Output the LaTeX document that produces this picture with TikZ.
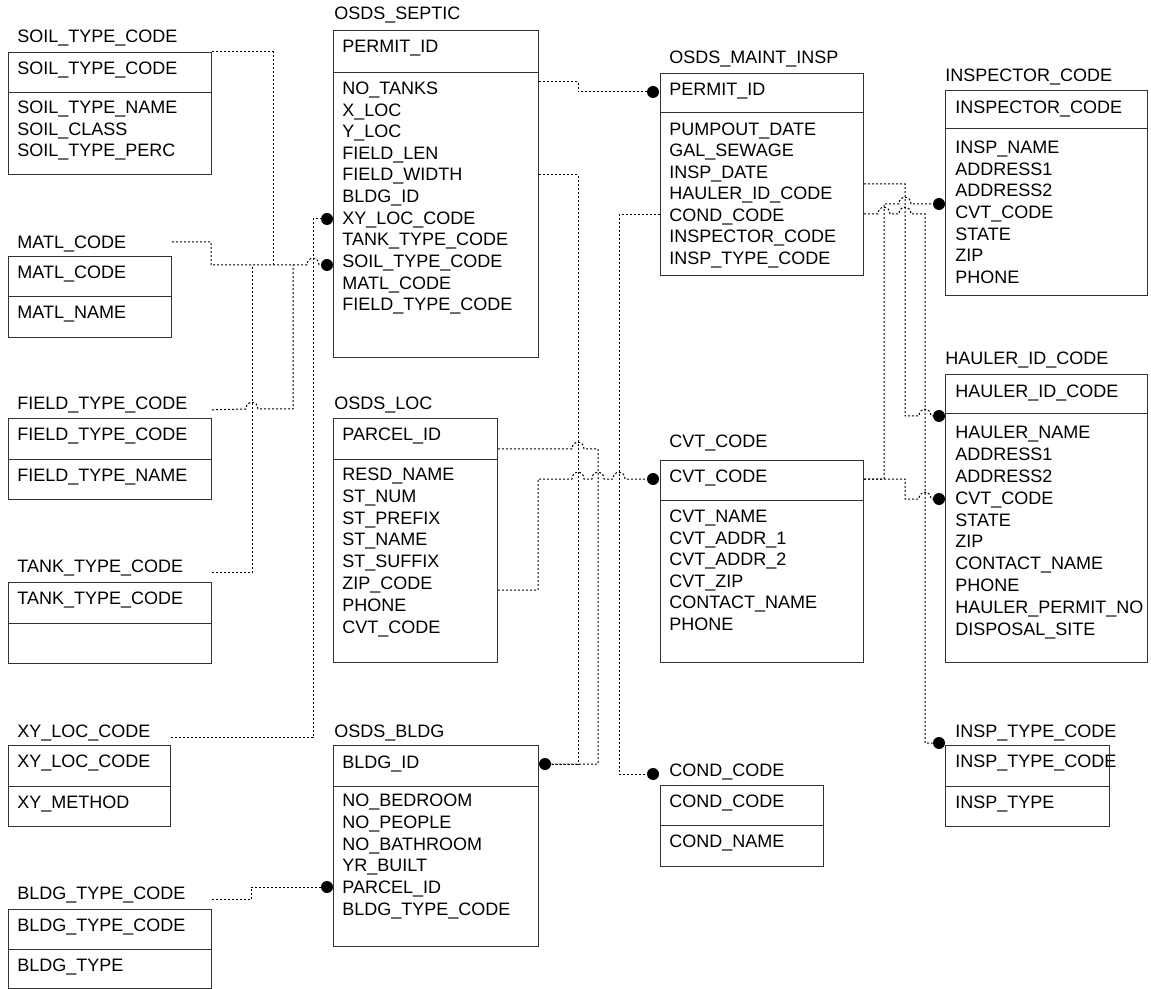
\documentclass[tikz,border=0pt]{standalone}
\usepackage{fontspec}
\setmainfont{Liberation Sans}
\definecolor{boxLineColor}{HTML}{333333}

\tikzset{
  tabbox/.style={draw=boxLineColor, line width=0.6pt, anchor=north west, inner sep=0pt},
  tabtext/.style={anchor=west, inner sep=0pt, text height=6.4pt, text depth=0pt},
  link/.style={line width=0.5pt, dash pattern=on 1pt off 1pt},
  manydot/.style={circle, fill=black, inner sep=0pt, minimum size=6pt},
  jumpat/.style 2 args={insert path={-- (#1-6,#2) .. controls (#1-6,#2-9) and (#1+6,#2-9) .. (#1+6,#2)}}
}

\begin{document}
\begin{tikzpicture}[x=0.5pt, y=-0.5pt, font=\fontsize{9}{11}\selectfont]
  \useasboundingbox (0,0) rectangle (1151,989);

  % left column
  \node[tabtext] (soilT) at (17,36) {SOIL\_TYPE\_CODE};
  \node[tabbox, minimum width=101.5pt, minimum height=20pt] (soilK) at (8,52) {};
  \node[tabbox, minimum width=101.5pt, minimum height=41pt] (soilA) at (8,92) {};
  \node[tabtext] (soil-0) at (17,68) {SOIL\_TYPE\_CODE};
  \foreach \a [count=\i] in {SOIL\_TYPE\_NAME, SOIL\_CLASS, SOIL\_TYPE\_PERC}
    \node[tabtext] (soil-\i) at (17,{107+21.7*(\i-1)}) {\a};

  \node[tabtext] (matlT) at (17,242) {MATL\_CODE};
  \node[tabbox, minimum width=81.5pt, minimum height=20pt] (matlK) at (8,256) {};
  \node[tabbox, minimum width=81.5pt, minimum height=20.5pt] (matlA) at (8,296) {};
  \node[tabtext] (matl-0) at (17,272) {MATL\_CODE};
  \node[tabtext] (matl-1) at (17,312) {MATL\_NAME};

  \node[tabtext] (fieldT) at (17,403) {FIELD\_TYPE\_CODE};
  \node[tabbox, minimum width=101.5pt, minimum height=20.5pt] (fieldK) at (8,418) {};
  \node[tabbox, minimum width=101.5pt, minimum height=20pt] (fieldA) at (8,459) {};
  \node[tabtext] (field-0) at (17,434) {FIELD\_TYPE\_CODE};
  \node[tabtext] (field-1) at (17,475) {FIELD\_TYPE\_NAME};

  \node[tabtext] (tankT) at (17,566) {TANK\_TYPE\_CODE};
  \node[tabbox, minimum width=101.5pt, minimum height=20.5pt] (tankK) at (8,582) {};
  \node[tabbox, minimum width=101.5pt, minimum height=20pt] (tankA) at (8,623) {};
  \node[tabtext] (tank-0) at (17,598) {TANK\_TYPE\_CODE};

  \node[tabtext] (xyT) at (17,731) {XY\_LOC\_CODE};
  \node[tabbox, minimum width=81pt, minimum height=20.5pt] (xyK) at (8,745) {};
  \node[tabbox, minimum width=81pt, minimum height=20pt] (xyA) at (8,786) {};
  \node[tabtext] (xy-0) at (17,761) {XY\_LOC\_CODE};
  \node[tabtext] (xy-1) at (17,802) {XY\_METHOD};

  \node[tabtext] (btT) at (17,893) {BLDG\_TYPE\_CODE};
  \node[tabbox, minimum width=101.5pt, minimum height=20pt] (btK) at (8,909) {};
  \node[tabbox, minimum width=101.5pt, minimum height=19.5pt] (btA) at (8,949) {};
  \node[tabtext] (bt-0) at (17,925) {BLDG\_TYPE\_CODE};
  \node[tabtext] (bt-1) at (17,965) {BLDG\_TYPE};

  % middle column
  \node[tabtext] (septicT) at (334,13) {OSDS\_SEPTIC};
  \node[tabbox, minimum width=102.5pt, minimum height=21pt] (septicK) at (333,30) {};
  \node[tabbox, minimum width=102.5pt, minimum height=142.5pt] (septicA) at (333,72) {};
  \node[tabtext] (septic-0) at (342,46) {PERMIT\_ID};
  \foreach \a [count=\i] in {NO\_TANKS, X\_LOC, Y\_LOC, FIELD\_LEN, FIELD\_WIDTH, BLDG\_ID,
      XY\_LOC\_CODE, TANK\_TYPE\_CODE, SOIL\_TYPE\_CODE, MATL\_CODE, FIELD\_TYPE\_CODE}
    \node[tabtext] (septic-\i) at (342,{88+21.65*(\i-1)}) {\a};

  \node[tabtext] (locT) at (334,403) {OSDS\_LOC};
  \node[tabbox, minimum width=82pt, minimum height=20.5pt] (locK) at (333,418) {};
  \node[tabbox, minimum width=82pt, minimum height=101.5pt] (locA) at (333,459) {};
  \node[tabtext] (loc-0) at (342,434) {PARCEL\_ID};
  \foreach \a [count=\i] in {RESD\_NAME, ST\_NUM, ST\_PREFIX, ST\_NAME, ST\_SUFFIX,
      ZIP\_CODE, PHONE, CVT\_CODE}
    \node[tabtext] (loc-\i) at (342,{474+21.86*(\i-1)}) {\a};

  \node[tabtext] (bldgT) at (334,731) {OSDS\_BLDG};
  \node[tabbox, minimum width=102.5pt, minimum height=20.5pt] (bldgK) at (333,745) {};
  \node[tabbox, minimum width=102.5pt, minimum height=80pt] (bldgA) at (333,786) {};
  \node[tabtext] (bldg-0) at (342,762) {BLDG\_ID};
  \foreach \a [count=\i] in {NO\_BEDROOM, NO\_PEOPLE, NO\_BATHROOM, YR\_BUILT, PARCEL\_ID,
      BLDG\_TYPE\_CODE}
    \node[tabtext] (bldg-\i) at (342,{800+21.8*(\i-1)}) {\a};

  \node[tabtext] (maintT) at (669,57) {OSDS\_MAINT\_INSP};
  \node[tabbox, minimum width=101.5pt, minimum height=19.5pt] (maintK) at (660,73) {};
  \node[tabbox, minimum width=101.5pt, minimum height=81.5pt] (maintA) at (660,112) {};
  \node[tabtext] (maint-0) at (669,89) {PERMIT\_ID};
  \foreach \a [count=\i] in {PUMPOUT\_DATE, GAL\_SEWAGE, INSP\_DATE, HAULER\_ID\_CODE,
      COND\_CODE, INSPECTOR\_CODE, INSP\_TYPE\_CODE}
    \node[tabtext] (maint-\i) at (669,{129+21.5*(\i-1)}) {\a};

  \node[tabtext] (cvtT) at (669,441) {CVT\_CODE};
  \node[tabbox, minimum width=101.5pt, minimum height=20pt] (cvtK) at (660,460) {};
  \node[tabbox, minimum width=101.5pt, minimum height=81pt] (cvtA) at (660,500) {};
  \node[tabtext] (cvt-0) at (669,476) {CVT\_CODE};
  \foreach \a [count=\i] in {CVT\_NAME, CVT\_ADDR\_1, CVT\_ADDR\_2, CVT\_ZIP, CONTACT\_NAME, PHONE}
    \node[tabtext] (cvt-\i) at (669,{516+21.6*(\i-1)}) {\a};

  \node[tabtext] (condT) at (669,770) {COND\_CODE};
  \node[tabbox, minimum width=81.5pt, minimum height=20pt] (condK) at (660,785) {};
  \node[tabbox, minimum width=81.5pt, minimum height=20.5pt] (condA) at (660,825) {};
  \node[tabtext] (cond-0) at (669,801) {COND\_CODE};
  \node[tabtext] (cond-1) at (669,841) {COND\_NAME};

  % right column
  \node[tabtext] (inspT) at (945,75) {INSPECTOR\_CODE};
  \node[tabbox, minimum width=101pt, minimum height=19pt] (inspK) at (945,90) {};
  \node[tabbox, minimum width=101pt, minimum height=83.5pt] (inspA) at (945,128) {};
  \node[tabtext] (insp-0) at (955,107) {INSPECTOR\_CODE};
  \foreach \a [count=\i] in {INSP\_NAME, ADDRESS1, ADDRESS2, CVT\_CODE, STATE, ZIP, PHONE}
    \node[tabtext] (insp-\i) at (955,{147+21.7*(\i-1)}) {\a};

  \node[tabtext] (haulerT) at (945,358) {HAULER\_ID\_CODE};
  \node[tabbox, minimum width=101pt, minimum height=19.5pt] (haulerK) at (945,374) {};
  \node[tabbox, minimum width=101pt, minimum height=124.5pt] (haulerA) at (945,413) {};
  \node[tabtext] (hauler-0) at (955,391) {HAULER\_ID\_CODE};
  \foreach \a [count=\i] in {HAULER\_NAME, ADDRESS1, ADDRESS2, CVT\_CODE, STATE, ZIP,
      CONTACT\_NAME, PHONE, HAULER\_PERMIT\_NO, DISPOSAL\_SITE}
    \node[tabtext] (hauler-\i) at (955,{432+21.9*(\i-1)}) {\a};

  \node[tabtext] (itT) at (955,731) {INSP\_TYPE\_CODE};
  \node[tabbox, minimum width=82pt, minimum height=20.5pt] (itK) at (945,745) {};
  \node[tabbox, minimum width=82pt, minimum height=20pt] (itA) at (945,786) {};
  \node[tabtext] (it-0) at (955,761) {INSP\_TYPE\_CODE};
  \node[tabtext] (it-1) at (955,802) {INSP\_TYPE};

  % many-side dots
  \node[manydot] (dotPermit) at (653,92) {};
  \node[manydot] (dotBldg) at (545,764) {};
  \node[manydot] (dotCvt) at (653,479) {};
  \node[manydot] (dotCond) at (653,774) {};
  \node[manydot] (dotSoil) at (327,265) {};
  \node[manydot] (dotXy) at (327,219) {};
  \node[manydot] (dotParcel) at (327,887) {};
  \node[manydot] (dotHauler) at (939,416) {};
  \node[manydot] (dotInspType) at (939,743) {};
  \node[manydot] (dotInspCvt) at (939,204) {};
  \node[manydot] (dotHaulerCvt) at (939,499) {};

  % links
  \draw[link] (septicA.east |- 0,82) -| (578,92) -- (dotPermit);
  \draw[link] (septic-5 -| septicA.east) -| (578,764) -- (dotBldg);
  \draw[link] (locK.east |- 0,449) [jumpat={578}{449}] -- (598,449) |- (dotBldg);
  \draw[link] (locA.east |- 0,590) -| (538,479) [jumpat={578}{479}] [jumpat={598}{479}]
    [jumpat={619}{479}] -- (dotCvt);
  \draw[link] (maint-5 -| maintA.west) -| (619,774) -- (dotCond);

  \draw[link] (soilK.north east) -| (273,265);
  \draw[link] (matlK.east |- matlT) -| (211,265) [jumpat={313}{265}] -- (dotSoil);
  \draw[link] (fieldK.east |- fieldT.south) [jumpat={252}{409}] -| (293,265);
  \draw[link] (tankK.east |- tankT.south) -| (252,265);
  \draw[link] (xyK.east |- xyT.south) -| (313,219) -- (dotXy);
  \draw[link] (btK.east |- btT.south) -| (251,887) -- (dotParcel);

  \draw[link] (maintA.east |- 0,184) -| (905,416) [jumpat={925}{416}] -- (dotHauler);
  \draw[link] (maintA.east |- 0,214) [jumpat={884}{214}] [jumpat={905}{214}] -| (925,743)
    -- (dotInspType);
  \draw[link] (cvtK.east |- 0,479) -| (884,204) [jumpat={905}{204}] -- (dotInspCvt);
  \draw[link] (cvtK.east |- 0,479) -| (905,499) [jumpat={925}{499}] -- (dotHaulerCvt);
\end{tikzpicture}
\end{document}
